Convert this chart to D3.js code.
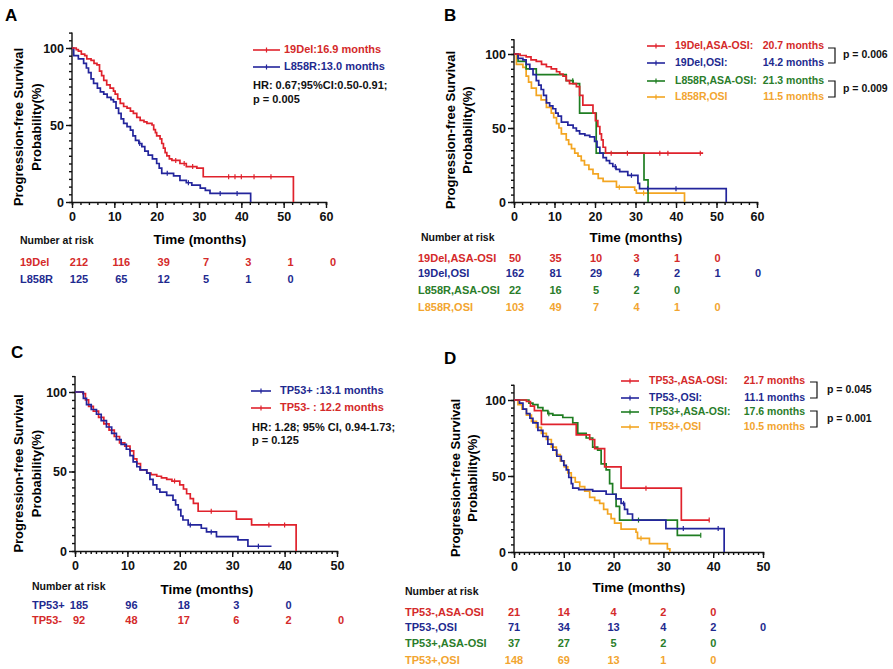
<!DOCTYPE html>
<html><head><meta charset="utf-8">
<script src="https://cdn.jsdelivr.net/npm/d3@7"></script>
<style>body{margin:0;background:#fff;} svg{display:block;font-family:"Liberation Sans",Arial,sans-serif;}</style>
</head><body><svg id="chart" width="893" height="669"></svg>
<script>
// ---------------- DATA ----------------
// Kaplan-Meier step curves: [time (months), survival (%)]
const A_19Del = [[0,100],[1,99],[1.5,98],[2.2,96],[3,95],[3.5,93],[4.5,92],[5.2,90],[5.9,89],[6.5,85],[7,82],[7.5,79],[8.2,76],[9,74],[9.8,72],[10.2,70],[10.8,67],[11.4,64],[12.2,62],[13,61],[13.8,59],[14.5,57.5],[15.3,55],[16.1,53],[17,52],[17.7,51],[18.9,50],[19.3,47],[19.7,45],[20,43],[20.8,41],[21.2,38],[21.6,35],[22,32],[22.4,30],[23,28],[23.6,27],[25.5,25],[27,23],[29.5,22],[31,16.4],[52.3,0]];
const A_L858R = [[0,100],[0.4,95],[1.5,93],[2.75,90],[3.4,87],[3.9,84],[4.5,80],[5.1,77],[6,74],[6.7,71.5],[7.5,70],[8.3,68],[9.2,66.5],[9.8,65],[10.4,61],[11,57.5],[11.6,54],[12.2,51],[13,49],[13.8,46.7],[14.4,43],[15,40],[15.8,38],[16.5,36],[17.2,33],[18,30.5],[19,28],[20,25],[20.6,22],[21.2,18.6],[24,17],[25.5,14],[27,12.5],[28.3,11],[30.3,9],[31.5,7.5],[32.6,5.6],[42.2,0]];
const A_19Del_cens = [24.5,26.5,28.5,37,38.5,40,43,47];
const A_L858R_cens = [16,22.5,27.5,35,39];

const B_19DelASA = [[0,100],[1.5,99],[3,98],[4.2,96],[5.5,95],[6.8,93],[8,91.4],[9.2,90],[10.5,88],[11.3,86.5],[12.1,85],[12.9,82],[13.7,80],[15.4,78],[16.2,72],[17,65.5],[19.5,60],[20.1,55],[20.7,51],[21.2,46],[21.6,42],[22,37],[22.6,33],[46.7,33]];
const B_19DelOSI = [[0,100],[1,97],[2.2,96],[3,93],[3.9,90],[4.7,86],[5.5,82],[6.1,79],[6.7,76],[7.3,72],[8,67],[8.8,65],[9.6,63],[10.3,60],[10.9,58],[11.7,54],[13.3,52],[14.6,50],[15.4,48],[16.2,46],[17.5,45],[18.7,44],[19.9,41],[20.5,37],[21.2,33],[22,30],[22.8,28],[23.6,26],[24.4,24],[25.2,22],[26.1,20.5],[28.1,18],[30.6,12.6],[31,9],[52.4,0]];
const B_L858RASA = [[0,100],[1,95],[3,90],[5.5,86],[12.9,82],[14.6,80],[16.2,60],[20.3,33],[32.1,15],[33.1,0]];
const B_L858ROSI = [[0,100],[0.6,93],[2.2,91],[3,85],[3.6,81],[4.3,77],[5.5,72],[6.7,69],[8,64],[9.2,60],[9.8,57],[10.5,53],[11.1,50],[11.7,46],[12.9,42],[13.5,39],[14.2,36],[15,33],[15.8,31],[16.6,28],[17.4,25],[18.5,22],[19.5,19],[20.8,16],[22,14],[25.3,10],[29.8,8],[30.2,6],[42.1,0]];
const B_19DelASA_cens = [24,28,36,38,46];
const B_19DelOSI_cens = [25,29,33,40];
const B_L858RASA_cens = [14.5];
const B_L858ROSI_cens = [26,32];

const C_TP53pos = [[0,100],[1.2,100],[1.6,96],[2.2,92],[3.1,89],[4.1,86],[5,82],[6,78],[7,74],[7.9,70],[8.8,67],[9.8,64],[10.5,60],[11.1,56],[11.8,53],[12.4,51],[13.7,49],[14.3,45],[14.9,41.6],[15.6,39],[16.2,37],[17.5,35],[18.7,32],[19.2,29],[19.7,26],[20.2,22],[20.6,19.5],[21.6,16.4],[24.1,14.3],[25.1,12],[27,9],[31.1,7],[33,3],[37.5,3]];
const C_TP53neg = [[0,100],[1.5,99],[2,95],[2.6,91],[3.5,88],[4.5,84],[5.5,80],[6.5,76],[7.5,72],[8.5,68],[9.5,66],[10.5,63],[11.2,58],[11.8,55],[12.5,51],[13.7,49],[14.5,48],[15.6,47],[16.5,46],[17.5,45],[18.5,44],[20,41.6],[20.7,39],[21.3,36],[22,33],[22.6,30],[23.5,25],[30.8,20],[33.7,16.4],[42.2,0]];
const C_TP53pos_cens = [22,26,35];
const C_TP53neg_cens = [19,26,37,40];

const D_negASA = [[0,100],[2.5,99],[3.3,96],[4.1,93],[5.5,84],[12.5,77],[15.2,74],[16.2,68],[18.2,56],[21.5,42],[33.6,21],[39.2,21]];
const D_negOSI = [[0,100],[1.1,98],[1.8,94],[2.5,91],[3.2,88],[3.8,85],[4.8,80],[5.8,76],[6.8,71],[7.8,67],[8.6,63],[9.5,60],[10,57],[10.5,54],[11,49],[11.5,45],[11.8,42],[13,41],[15.8,40],[18.5,38],[20.5,35],[21.5,32],[22.2,28],[22.8,25],[23.8,21],[30.5,15.4],[42.2,0]];
const D_posASA = [[0,100],[3,98],[3.8,97],[4.8,95],[5.8,93],[6.8,91],[7.8,90],[9.8,88.5],[11.8,85],[12.8,78],[14.5,75],[15.8,69],[16.8,67],[17.5,58],[18.5,54],[19.2,45],[19.8,38],[20.5,30],[21.2,21],[32.8,11],[37.5,11]];
const D_posOSI = [[0,100],[0.8,97],[1.6,94],[2.5,90],[3.5,86],[4.5,82],[5.5,78],[6.5,74],[7.5,69],[8.5,64],[9.3,60],[10.1,56],[10.8,52],[11.5,49],[12.3,46],[13.2,43],[14.2,40],[15.2,36],[16.2,34],[17.2,32],[18,28],[18.8,25],[19.5,22],[20.2,19],[21.5,15],[24.5,13],[24.8,9],[27.2,5.5],[30.8,2],[31.3,0]];
const D_negASA_cens = [26.5,39.2];
const D_negOSI_cens = [22,34,41];
const D_posASA_cens = [7,25,37.5];
const D_posOSI_cens = [25.5];

// Number-at-risk tables (every 10 months)
const riskA_19Del = [212,116,39,7,3,1,0];
const riskA_L858R = [125,65,12,5,1,0];
const riskB_19DelASA = [50,35,10,3,1,0];
const riskB_19DelOSI = [162,81,29,4,2,1,0];
const riskB_L858RASA = [22,16,5,2,0];
const riskB_L858ROSI = [103,49,7,4,1,0];
const riskC_TP53pos = [185,96,18,3,0];
const riskC_TP53neg = [92,48,17,6,2,0];
const riskD_negASA = [21,14,4,2,0];
const riskD_negOSI = [71,34,13,4,2,0];
const riskD_posASA = [37,27,5,2,0];
const riskD_posOSI = [148,69,13,1,0];

// Axis ticks
const xTicks60 = [0,10,20,30,40,50,60];
const xTicks50 = [0,10,20,30,40,50];
const yTicks = [0,50,100];

// Labels
const legendA = ["19Del:16.9 months","L858R:13.0 months"];
const statsA = ["HR: 0.67;95%CI:0.50-0.91;","p = 0.005"];
const legendB = ["19Del,ASA-OSI:","19Del,OSI:","L858R,ASA-OSI:","L858R,OSI"];
const mediansB = ["20.7 months","14.2 months","21.3 months","11.5 months"];
const pB = ["p = 0.006","p = 0.009"];
const legendC = ["TP53+ :13.1 months","TP53- : 12.2 months"];
const statsC = ["HR: 1.28; 95% CI, 0.94-1.73;","p = 0.125"];
const legendD = ["TP53-,ASA-OSI:","TP53-,OSI:","TP53+,ASA-OSI:","TP53+,OSI"];
const mediansD = ["21.7 months","11.1 months","17.6 months","10.5 months"];
const pD = ["p = 0.045","p = 0.001"];
const riskLabelsA = ["19Del","L858R"];
const riskLabelsB = ["19Del,ASA-OSI","19Del,OSI","L858R,ASA-OSI","L858R,OSI"];
const riskLabelsC = ["TP53+","TP53-"];
const riskLabelsD = ["TP53-,ASA-OSI","TP53-,OSI","TP53+,ASA-OSI","TP53+,OSI"];

// ---------------- STYLE ----------------
const RED = "#e0222c", BLUE = "#23259c", GREEN = "#1f7d22", ORANGE = "#f3a521";
const TRED = "#d42a2a", TBLUE = "#1e2a8f", TGREEN = "#2a7d2a", TORANGE = "#f2a530";

const svg = d3.select("#chart");

function survAt(curve, t){
  let s = curve[0][1];
  for (const p of curve){ if (p[0] <= t) s = p[1]; else break; }
  return s;
}

function drawPanel(cfg){
  const g = svg.append("g");
  const x = d3.scaleLinear().domain([0, cfg.xmax]).range([cfg.x0, cfg.x1]);
  const y = d3.scaleLinear().domain([0, 100]).range([cfg.y0, cfg.y100]);

  // panel letter
  g.append("text").attr("x", cfg.letter[0]).attr("y", cfg.letter[1])
    .attr("font-size", 17).attr("font-weight", "bold").text(cfg.name);

  // y label
  const ymid = (cfg.y0 + cfg.y100) / 2 + 2;
  [["Progression-free Survival", cfg.ylab[0]], ["Probability(%)", cfg.ylab[1]]].forEach(([t, xx]) => {
    g.append("text").attr("transform", `translate(${xx},${ymid}) rotate(-90)`)
      .attr("text-anchor", "middle").attr("dominant-baseline", "middle")
      .attr("font-size", 13).attr("font-weight", "bold").text(t);
  });

  // axes
  const yAxisMinor = d3.axisLeft(y).tickValues(d3.range(0, 111, 5)).tickSize(3).tickFormat("");
  const yAxis = d3.axisLeft(y).tickValues(yTicks).tickSize(6).tickPadding(2);
  const xAxisMinor = d3.axisBottom(x).tickValues(d3.range(0, cfg.xmax + 0.01, cfg.minor)).tickSize(3).tickFormat("");
  const xAxis = d3.axisBottom(x).tickValues(cfg.xticks).tickSize(6).tickPadding(4);

  const ya = g.append("g").attr("transform", `translate(${cfg.x0},0)`);
  ya.call(yAxisMinor);
  ya.select(".domain").attr("d", `M0,${y(0)}V${y(110)}`);
  const yb = g.append("g").attr("transform", `translate(${cfg.x0},0)`).call(yAxis);
  yb.select(".domain").remove();
  const xa = g.append("g").attr("transform", `translate(0,${cfg.y0})`).call(xAxisMinor);
  const xb = g.append("g").attr("transform", `translate(0,${cfg.y0})`).call(xAxis);
  xb.select(".domain").remove();
  [ya, yb, xa, xb].forEach(a => {
    a.selectAll("path,line").attr("stroke", "#111").attr("stroke-width", 1.4);
    a.selectAll("text").attr("font-size", 12.5).attr("font-weight", "bold").attr("fill", "#111").attr("font-family", "Liberation Sans, Arial, sans-serif");
  });

  // x label
  g.append("text").attr("x", cfg.xlab[0]).attr("y", cfg.xlab[1]).attr("text-anchor", "middle")
    .attr("dominant-baseline", "middle").attr("font-size", 13.5).attr("font-weight", "bold").text("Time (months)");

  // curves
  const line = d3.line().x(d => x(d[0])).y(d => y(d[1])).curve(d3.curveStepAfter);
  cfg.series.forEach(s => {
    g.append("path").datum(s.data).attr("d", line).attr("fill", "none")
      .attr("stroke", s.color).attr("stroke-width", 1.7).attr("stroke-linejoin", "miter");
    g.selectAll(null).data(s.cens).enter().append("line")
      .attr("x1", t => x(t)).attr("x2", t => x(t))
      .attr("y1", t => y(survAt(s.data, t)) - 2.5).attr("y2", t => y(survAt(s.data, t)) + 2.5)
      .attr("stroke", s.color).attr("stroke-width", 1.2);
  });

  // legend
  cfg.legend.rows.forEach((r, i) => {
    const ly = cfg.legend.ys[i];
    g.append("line").attr("x1", cfg.legend.lx0).attr("x2", cfg.legend.lx1).attr("y1", ly).attr("y2", ly)
      .attr("stroke", r.color).attr("stroke-width", 1.6);
    const mx = (cfg.legend.lx0 + cfg.legend.lx1) / 2;
    g.append("line").attr("x1", mx).attr("x2", mx).attr("y1", ly - 2.5).attr("y2", ly + 2.5)
      .attr("stroke", r.color).attr("stroke-width", 1.2);
    g.append("text").attr("x", cfg.legend.tx).attr("y", ly).attr("dominant-baseline", "middle")
      .attr("font-size", cfg.legend.fs).attr("font-weight", "bold").attr("fill", r.tcolor).text(r.label);
    if (r.median) {
      g.append("text").attr("x", cfg.legend.mx).attr("y", ly).attr("dominant-baseline", "middle")
        .attr("text-anchor", "end").attr("font-size", cfg.legend.fs).attr("font-weight", "bold")
        .attr("fill", r.tcolor).text(r.median);
    }
  });
  if (cfg.stats) {
    cfg.stats.lines.forEach((t, i) => {
      g.append("text").attr("x", cfg.stats.x).attr("y", cfg.stats.ys[i]).attr("dominant-baseline", "middle")
        .attr("font-size", 11).attr("font-weight", "bold").attr("fill", "#111").text(t);
    });
  }
  if (cfg.brackets) {
    cfg.brackets.forEach(b => {
      g.append("path").attr("d", `M${b.x0},${b.top}H${b.x1}V${b.bot}H${b.x0}`)
        .attr("fill", "none").attr("stroke", "#111").attr("stroke-width", 1.2);
      g.append("text").attr("x", b.tx).attr("y", (b.top + b.bot) / 2).attr("dominant-baseline", "middle")
        .attr("font-size", 10.5).attr("font-weight", "bold").attr("fill", "#111").text(b.text);
    });
  }

  // risk table
  g.append("text").attr("x", cfg.risk.nx).attr("y", cfg.risk.ny).attr("dominant-baseline", "middle")
    .attr("font-size", 10.5).attr("font-weight", "bold").attr("fill", "#111").text("Number at risk");
  cfg.risk.rows.forEach((r, i) => {
    const ry = cfg.risk.ys[i];
    g.append("text").attr("x", cfg.risk.lx).attr("y", ry).attr("dominant-baseline", "middle")
      .attr("font-size", 11).attr("font-weight", "bold").attr("fill", r.tcolor).text(r.label);
    g.selectAll(null).data(r.values).enter().append("text")
      .attr("x", (v, j) => x(j * 10) + cfg.risk.off).attr("y", ry).attr("dominant-baseline", "middle")
      .attr("text-anchor", "middle").attr("font-size", 11).attr("font-weight", "bold")
      .attr("fill", r.tcolor).text(v => v);
  });
}

// ---------------- PANELS ----------------
drawPanel({
  name: "A", letter: [5, 21], xmax: 60, x0: 72, x1: 326, y0: 202, y100: 48, minor: 2, xticks: xTicks60,
  ylab: [20, 38], xlab: [200, 240],
  series: [
    { data: A_L858R, cens: A_L858R_cens, color: BLUE },
    { data: A_19Del, cens: A_19Del_cens, color: RED }
  ],
  legend: { lx0: 253, lx1: 280, tx: 284, ys: [50, 67], fs: 11,
    rows: [{ label: legendA[0], color: RED, tcolor: TRED }, { label: legendA[1], color: BLUE, tcolor: TBLUE }] },
  stats: { x: 253, ys: [86, 100], lines: statsA },
  risk: { nx: 20, ny: 241, lx: 20, ys: [263, 280], off: 7,
    rows: [{ label: riskLabelsA[0], values: riskA_19Del, tcolor: TRED }, { label: riskLabelsA[1], values: riskA_L858R, tcolor: TBLUE }] }
});

drawPanel({
  name: "B", letter: [444, 21], xmax: 60, x0: 514, x1: 757, y0: 202, y100: 54, minor: 2, xticks: xTicks60,
  ylab: [452, 469], xlab: [636, 238],
  series: [
    { data: B_L858ROSI, cens: B_L858ROSI_cens, color: ORANGE },
    { data: B_L858RASA, cens: B_L858RASA_cens, color: GREEN },
    { data: B_19DelOSI, cens: B_19DelOSI_cens, color: BLUE },
    { data: B_19DelASA, cens: B_19DelASA_cens, color: RED }
  ],
  legend: { lx0: 647, lx1: 665, tx: 675, mx: 824, ys: [46, 63, 81, 97], fs: 10.5,
    rows: [
      { label: legendB[0], median: mediansB[0], color: RED, tcolor: TRED },
      { label: legendB[1], median: mediansB[1], color: BLUE, tcolor: TBLUE },
      { label: legendB[2], median: mediansB[2], color: GREEN, tcolor: TGREEN },
      { label: legendB[3], median: mediansB[3], color: ORANGE, tcolor: TORANGE }] },
  brackets: [
    { x0: 828, x1: 835, top: 48, bot: 63, tx: 843, text: pB[0] },
    { x0: 828, x1: 835, top: 81, bot: 97, tx: 843, text: pB[1] }],
  risk: { nx: 421, ny: 238, lx: 418, ys: [259, 274, 291, 308], off: 1,
    rows: [
      { label: riskLabelsB[0], values: riskB_19DelASA, tcolor: TRED },
      { label: riskLabelsB[1], values: riskB_19DelOSI, tcolor: TBLUE },
      { label: riskLabelsB[2], values: riskB_L858RASA, tcolor: TGREEN },
      { label: riskLabelsB[3], values: riskB_L858ROSI, tcolor: TORANGE }] }
});

drawPanel({
  name: "C", letter: [11, 358], xmax: 50, x0: 75, x1: 337, y0: 551, y100: 392, minor: 1, xticks: xTicks50,
  ylab: [20, 38], xlab: [207, 590],
  series: [
    { data: C_TP53neg, cens: C_TP53neg_cens, color: RED },
    { data: C_TP53pos, cens: C_TP53pos_cens, color: BLUE }
  ],
  legend: { lx0: 251, lx1: 271, tx: 280, ys: [391, 408], fs: 11,
    rows: [{ label: legendC[0], color: BLUE, tcolor: TBLUE }, { label: legendC[1], color: RED, tcolor: TRED }] },
  stats: { x: 252, ys: [428, 441], lines: statsC },
  risk: { nx: 32, ny: 587, lx: 32, ys: [606, 621], off: 4,
    rows: [{ label: riskLabelsC[0], values: riskC_TP53pos, tcolor: TBLUE }, { label: riskLabelsC[1], values: riskC_TP53neg, tcolor: TRED }] }
});

drawPanel({
  name: "D", letter: [444, 364], xmax: 50, x0: 514, x1: 763, y0: 552, y100: 400, minor: 1, xticks: xTicks50,
  ylab: [457, 474], xlab: [639, 588],
  series: [
    { data: D_posOSI, cens: D_posOSI_cens, color: ORANGE },
    { data: D_posASA, cens: D_posASA_cens, color: GREEN },
    { data: D_negOSI, cens: D_negOSI_cens, color: BLUE },
    { data: D_negASA, cens: D_negASA_cens, color: RED }
  ],
  legend: { lx0: 621, lx1: 639, tx: 649, mx: 805, ys: [381, 398, 412, 427], fs: 10.5,
    rows: [
      { label: legendD[0], median: mediansD[0], color: RED, tcolor: TRED },
      { label: legendD[1], median: mediansD[1], color: BLUE, tcolor: TBLUE },
      { label: legendD[2], median: mediansD[2], color: GREEN, tcolor: TGREEN },
      { label: legendD[3], median: mediansD[3], color: ORANGE, tcolor: TORANGE }] },
  brackets: [
    { x0: 810, x1: 817, top: 382, bot: 398, tx: 827, text: pD[0] },
    { x0: 810, x1: 817, top: 411, bot: 427, tx: 827, text: pD[1] }],
  risk: { nx: 405, ny: 592, lx: 405, ys: [613, 628, 644, 661], off: 0,
    rows: [
      { label: riskLabelsD[0], values: riskD_negASA, tcolor: TRED },
      { label: riskLabelsD[1], values: riskD_negOSI, tcolor: TBLUE },
      { label: riskLabelsD[2], values: riskD_posASA, tcolor: TGREEN },
      { label: riskLabelsD[3], values: riskD_posOSI, tcolor: TORANGE }] }
});
</script></body></html>
